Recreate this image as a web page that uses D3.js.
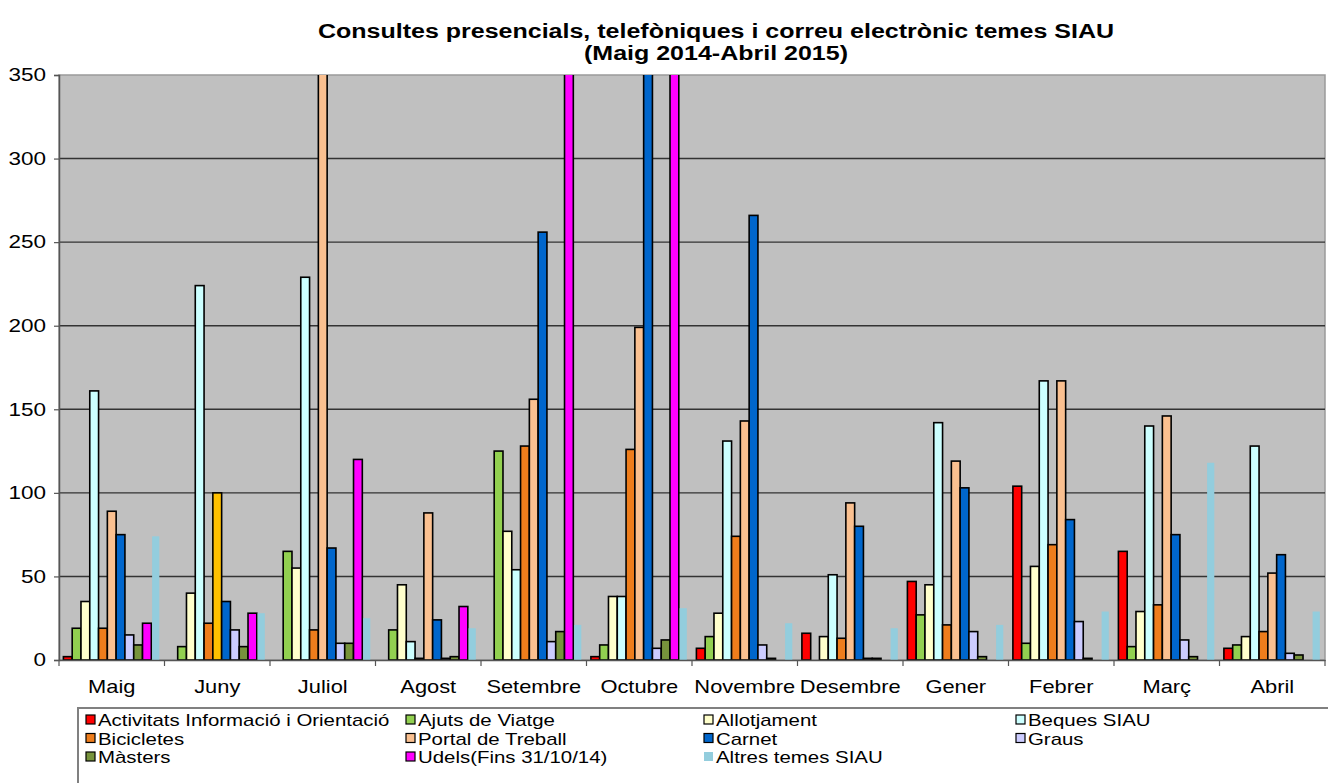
<!DOCTYPE html>
<html><head><meta charset="utf-8">
<script src="https://cdn.jsdelivr.net/npm/d3@7"></script>
<style>
html,body{margin:0;padding:0;background:#fff;}
svg{display:block;font-family:"Liberation Sans",Arial,sans-serif;}
</style></head>
<body>
<svg id="chart" width="1328" height="783"></svg>
<script>
const months = ["Maig","Juny","Juliol","Agost","Setembre","Octubre","Novembre","Desembre","Gener","Febrer","Març","Abril"];
const seriesNames = ["Activitats Informació i Orientació","Ajuts de Viatge","Allotjament","Beques SIAU","Bicicletes","Portal de Treball","Carnet","Graus","Màsters","Udels(Fins 31/10/14)","Altres temes SIAU"];
const seriesColors = ["#ff0000","#92d050","#ffffcc","#ccffff","#ee7d1c","#fac090","#0066cc","#ccccff","#77933c","#ff00ff","#93cddd"];
// values per series, month order Maig..Abril (values above 350 are cut off in the original)
const activitats = [2,0,0,0,0,2,7,16,47,104,65,7];
const ajuts      = [19,8,65,18,125,9,14,0,27,10,8,9];
const allotjament= [35,40,55,45,77,38,28,14,45,56,29,14];
const beques     = [161,224,229,11,54,38,131,51,142,167,140,128];
const bicicletes = [19,22,18,1,128,126,74,13,21,69,33,17];
const portal     = [89,100,380,88,156,199,143,94,119,167,146,52];
const carnet     = [75,35,67,24,256,380,266,80,103,84,75,63];
const graus      = [15,18,10,1,11,7,9,1,17,23,12,4];
const masters    = [9,8,10,2,17,12,1,1,2,1,2,3];
const udels      = [22,28,120,32,380,380,0,0,0,0,0,0];
const altres     = [74,28,25,19,21,31,22,19,21,29,118,29];
const seriesValues = [activitats,ajuts,allotjament,beques,bicicletes,portal,carnet,graus,masters,udels,altres];
// single point colour override in original (Juny, Portal de Treball)
const pointColorOverrides = [{series:"Portal de Treball", month:"Juny", color:"#ffc000"}];
const yTicks = [0,50,100,150,200,250,300,350];
const titleLines = ["Consultes presencials, telefòniques i correu electrònic temes SIAU","(Maig 2014-Abril 2015)"];

const svg = d3.select("#chart");
const plot = {left:59, right:1325, top:75, bottom:660};

// horizontally stretch text like the reference
function stretch(sel, f){
  sel.each(function(){
    const L = this.getComputedTextLength();
    d3.select(this).attr("textLength", L*f).attr("lengthAdjust","spacingAndGlyphs");
  });
}

const x0 = d3.scaleBand().domain(months).range([plot.left, plot.right]).paddingInner(0).paddingOuter(0);
const x1 = d3.scaleBand().domain(seriesNames).range([0, x0.bandwidth()]).paddingInner(0).paddingOuter(0.5);
const y = d3.scaleLinear().domain([0,350]).range([plot.bottom, plot.top]);

svg.append("defs").append("clipPath").attr("id","clip")
  .append("rect").attr("x",plot.left).attr("y",plot.top).attr("width",plot.right-plot.left).attr("height",plot.bottom-plot.top);

// plot background
svg.append("rect").attr("x",plot.left).attr("y",plot.top).attr("width",plot.right-plot.left).attr("height",plot.bottom-plot.top)
  .attr("fill","#c0c0c0").attr("stroke","#9a9a9a").attr("stroke-width",1.5);

// gridlines
svg.append("g").selectAll("line").data(yTicks.filter(d=>d>0 && d<350)).join("line")
  .attr("x1",plot.left).attr("x2",plot.right).attr("y1",d=>y(d)).attr("y2",d=>y(d))
  .attr("stroke","#333").attr("stroke-width",1.4);

// bars
const rows = [];
seriesNames.forEach((s,si)=>{
  months.forEach((m,mi)=>{
    const v = seriesValues[si][mi];
    if(v<=0) return;
    const ov = pointColorOverrides.find(o=>o.series===s && o.month===m);
    rows.push({s, m, v, si, color: ov ? ov.color : seriesColors[si]});
  });
});
const gBars = svg.append("g").attr("clip-path","url(#clip)");
gBars.selectAll("rect").data(rows).join("rect")
  .attr("x",d=> x0(d.m) + x1(d.s) + (d.si===10 ? 0.8 : 0))
  .attr("width",d=> x1.bandwidth() - (d.si===10 ? 1.6 : 0))
  .attr("y",d=> y(d.v))
  .attr("height",d=> y(0)-y(d.v))
  .attr("fill",d=>d.color)
  .attr("stroke",d=> d.si===10 ? "none" : "#000")
  .attr("stroke-width",1.6);

// y axis
const yAxis = d3.axisLeft(y).tickValues(yTicks).tickSize(5).tickPadding(8);
const gy = svg.append("g").attr("transform",`translate(${plot.left},0)`).call(yAxis);
gy.select(".domain").attr("stroke","#555").attr("stroke-width",1.5);
gy.selectAll(".tick line").attr("stroke","#555").attr("stroke-width",1.2);
gy.selectAll("text").attr("font-size",18).attr("fill","#000").attr("font-family","Liberation Sans, Arial, sans-serif");
stretch(gy.selectAll("text"), 1.25);

// x axis
const xAxis = d3.axisBottom(x0).tickSize(0).tickPadding(20);
const gx = svg.append("g").attr("transform",`translate(0,${plot.bottom})`).call(xAxis);
gx.select(".domain").attr("stroke","#555").attr("stroke-width",1.5);
gx.selectAll("text").attr("font-size",19).attr("fill","#000").attr("font-family","Liberation Sans, Arial, sans-serif");
stretch(gx.selectAll("text"), 1.15);
// category boundary ticks
const bounds = months.map(m=>x0(m)).concat([plot.right]);
gx.append("g").selectAll("line").data(bounds).join("line")
  .attr("x1",d=>d).attr("x2",d=>d).attr("y1",0).attr("y2",6)
  .attr("stroke","#555").attr("stroke-width",1.2);

// title
const titles = svg.append("g").selectAll("text").data(titleLines).join("text")
  .attr("x",716).attr("y",(d,i)=>38+i*22)
  .attr("text-anchor","middle").attr("font-weight","bold").attr("font-size",20)
  .text(d=>d);
stretch(titles, 1.25);

// legend
const legX = 78, legY = 708;
svg.append("rect").attr("x",legX).attr("y",legY).attr("width",1300).attr("height",100)
  .attr("fill","#fff").attr("stroke","#808080").attr("stroke-width",2);
const colX = [86, 406, 704, 1016];
const leg = svg.append("g").selectAll("g").data(seriesNames).join("g")
  .attr("transform",(d,i)=>`translate(${colX[i%4]},${legY+12+Math.floor(i/4)*18.5})`);
leg.append("rect").attr("x",0).attr("y",-5).attr("width",9).attr("height",9)
  .attr("fill",(d,i)=>seriesColors[i]).attr("stroke",(d,i)=> i===10 ? "none" : "#000").attr("stroke-width",1.2);
const legText = leg.append("text").attr("x",12).attr("y",0).attr("dy","0.36em").attr("font-size",17).text(d=>d);
stretch(legText, 1.2);
</script>
</body></html>
